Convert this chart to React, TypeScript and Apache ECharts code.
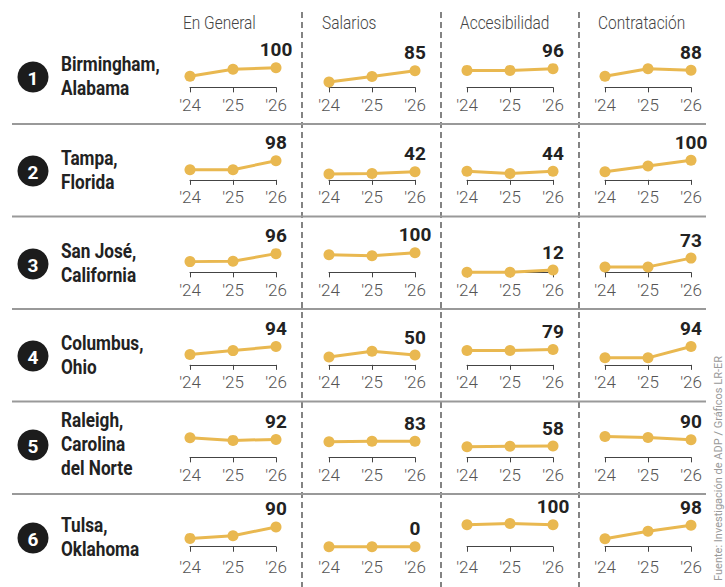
import React, { useEffect, useRef } from "react";
import * as echarts from "echarts";

const W = 725;
const H = 587;
const FONT = "Roboto, 'Liberation Sans', sans-serif";

const METRICS = ["En General", "Salarios", "Accesibilidad", "Contratación"];
const YEARS = ["'24", "'25", "'26"];
const RANKS = ["1", "2", "3", "4", "5", "6"];
const CITIES = [
  "Birmingham,\nAlabama",
  "Tampa,\nFlorida",
  "San José,\nCalifornia",
  "Columbus,\nOhio",
  "Raleigh,\nCarolina\ndel Norte",
  "Tulsa,\nOklahoma",
];

// 2026 scores (labels)
const GENERAL_2026 = [100, 98, 96, 94, 92, 90];
const SALARIOS_2026 = [85, 42, 100, 50, 83, 0];
const ACCES_2026 = [96, 44, 12, 79, 58, 100];
const CONTRAT_2026 = [88, 100, 73, 94, 90, 98];
const SCORES_2026 = [GENERAL_2026, SALARIOS_2026, ACCES_2026, CONTRAT_2026];

// trend values '24, '25, '26 per city
const GENERAL_TREND = [
  [57, 93, 100],
  [52, 52, 98],
  [55, 57, 96],
  [53, 73, 94],
  [101, 87, 92],
  [38, 50, 90],
];
const SALARIOS_TREND = [
  [27, 56, 85],
  [30, 33, 42],
  [90, 85, 100],
  [40, 70, 50],
  [80, 82, 83],
  [0, 0, 0],
];
const ACCES_TREND = [
  [87, 87, 96],
  [44, 32, 44],
  [0, 1, 12],
  [74, 74, 79],
  [54, 57, 58],
  [100, 106, 100],
];
const CONTRAT_TREND = [
  [57, 95, 88],
  [42, 71, 100],
  [27, 28, 73],
  [36, 36, 94],
  [107, 102, 90],
  [36, 70, 98],
];
const TRENDS = [GENERAL_TREND, SALARIOS_TREND, ACCES_TREND, CONTRAT_TREND];

const SOURCE = "Fuente: Investigación de ADP / Gráficos LR-ER";

// layout
const COL_X = [190, 329, 467, 605];
const CELL_W = 86;
const AXIS_Y0 = 89.3;
const ROW_PITCH = 92.5;
const CIRCLE_Y = [77, 171, 264, 356, 445, 538];
const GOLD = "#E9B850";

function buildOption() {
  const grid: any[] = [];
  const xAxis: any[] = [];
  const yAxis: any[] = [];
  const series: any[] = [];
  for (let r = 0; r < CITIES.length; r++) {
    const axisY = AXIS_Y0 + r * ROW_PITCH;
    const sc = r === 5 ? { min: -23, max: 110, ppu: 0.22 } : { min: -10, max: 110, ppu: 0.195 };
    const h = (sc.max - sc.min) * sc.ppu;
    for (let c = 0; c < METRICS.length; c++) {
      const idx = grid.length;
      grid.push({ left: COL_X[c], top: axisY - h, width: CELL_W, height: h });
      xAxis.push({
        type: "category",
        gridIndex: idx,
        data: YEARS,
        boundaryGap: false,
        axisLine: { lineStyle: { color: "#444", width: 1 } },
        axisTick: { length: 5, lineStyle: { color: "#444", width: 1 } },
        axisLabel: { color: "#555", fontSize: 17, fontWeight: 300, fontFamily: FONT, margin: 7 },
        splitLine: { show: false },
      });
      yAxis.push({ type: "value", gridIndex: idx, min: sc.min, max: sc.max, show: false });
      const score = SCORES_2026[c][r];
      series.push({
        type: "line",
        xAxisIndex: idx,
        yAxisIndex: idx,
        clip: false,
        symbol: "circle",
        symbolSize: 11,
        lineStyle: { color: GOLD, width: 3 },
        itemStyle: { color: GOLD },
        label: {
          show: false,
          position: "top",
          distance: 3,
          fontSize: 19,
          fontWeight: "bold",
          fontFamily: FONT,
          color: "#222",
          formatter: () => String(score),
        },
        data: TRENDS[c][r].map((v, i) => (i === 2 ? { value: v, label: { show: true } } : v)),
      });
    }
  }

  const graphic: any[] = [];
  METRICS.forEach((m, c) => {
    graphic.push({
      type: "text",
      x: COL_X[c] - 7,
      y: 23,
      scaleX: 0.86,
      style: {
        text: m,
        fill: "#444",
        fontSize: 18,
        fontWeight: 300,
        fontFamily: FONT,
        verticalAlign: "middle",
        align: "left",
      },
    });
  });
  [302, 441, 579].forEach((x) => {
    graphic.push({
      type: "line",
      shape: { x1: x, y1: 12, x2: x, y2: H },
      style: { stroke: "#333", lineWidth: 1.2, lineDash: [6, 4] },
    });
  });
  for (let k = 0; k < 5; k++) {
    const y = 124 + k * ROW_PITCH;
    graphic.push({
      type: "line",
      shape: { x1: 12, y1: y, x2: 706, y2: y },
      style: { stroke: "#999", lineWidth: 2 },
    });
  }
  CITIES.forEach((city, r) => {
    graphic.push({
      type: "circle",
      shape: { cx: 33, cy: CIRCLE_Y[r], r: 15.5 },
      style: { fill: "#1c1c1c" },
    });
    graphic.push({
      type: "text",
      x: 33,
      y: CIRCLE_Y[r] + 1,
      style: {
        text: RANKS[r],
        fill: "#fff",
        fontSize: 19,
        fontWeight: "bold",
        fontFamily: FONT,
        align: "center",
        verticalAlign: "middle",
      },
    });
    graphic.push({
      type: "text",
      x: 61,
      y: CIRCLE_Y[r],
      scaleX: 0.86,
      style: {
        text: city,
        fill: "#222",
        fontSize: 20,
        fontWeight: "bold",
        fontFamily: FONT,
        lineHeight: 24,
        align: "left",
        verticalAlign: "middle",
      },
    });
  });
  graphic.push({
    type: "text",
    x: 718,
    y: 356,
    rotation: Math.PI / 2,
    style: {
      text: SOURCE,
      fill: "#999",
      fontSize: 11,
      fontFamily: FONT,
      align: "right",
      verticalAlign: "middle",
    },
  });

  return { animation: false, backgroundColor: "#fff", grid, xAxis, yAxis, series, graphic };
}

export default function App() {
  const ref = useRef<HTMLDivElement>(null);
  useEffect(() => {
    const chart = echarts.init(ref.current!, null, { renderer: "svg", width: W, height: H });
    chart.setOption(buildOption() as any);
    return () => chart.dispose();
  }, []);
  return <div ref={ref} style={{ width: W, height: H, position: "absolute", left: 0, top: 0 }} />;
}
